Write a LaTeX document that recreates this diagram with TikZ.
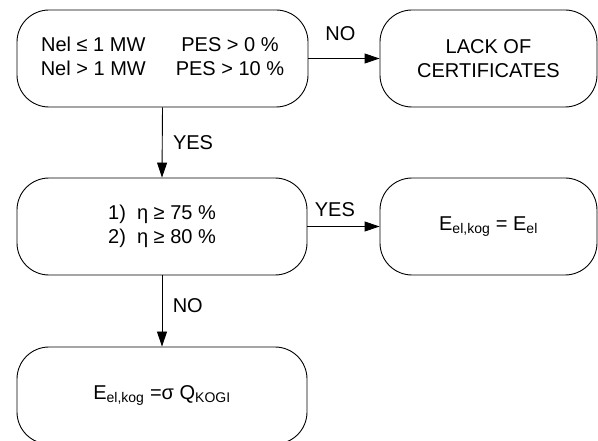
\documentclass[tikz,border=0pt]{standalone}
\usepackage{fontspec}
\setmainfont{Liberation Sans}
\usetikzlibrary{arrows.meta}

\begin{document}
\begin{tikzpicture}[x=1pt, y=-1pt, font=\fontsize{20}{24}\selectfont,
    box/.style={draw, rounded corners=32pt, minimum height=97pt, align=center, line width=0.9pt},
    arr/.style={-{Triangle[length=15pt,width=10pt]}, line width=0.9pt}]
        \useasboundingbox (0,0) rectangle (598,441);
        \node[box, minimum width=291pt] (cond) at (162.5,58.5)
            {\begin{tabular}{c@{\hspace{30pt}}c}
                Nel ≤ 1 MW & PES > 0 \% \\
                Nel > 1 MW & PES > 10 \%
            \end{tabular}};
        \node[box, minimum width=217pt] (lack) at (488.5,58.5) {LACK OF\\CERTIFICATES};
        \node[box, minimum width=290pt] (eta) at (162,226.5) {1)\ \ η ≥ 75 \%\\2)\ \ η ≥ 80 \%};
        \node[box, minimum width=217pt] (eel) at (488.5,226.5) {E\textsubscript{el,kog} = E\textsubscript{el}};
        \node[box, minimum width=290pt] (sigma) at (162,395.5) {E\textsubscript{el,kog} =σ Q\textsubscript{KOGI}};
        \draw[arr] (cond) -- node[above=14pt, pos=0.45] {NO} (lack);
        \draw[arr] (cond.south) -- node[right=7pt] {YES} (eta.north);
        \draw[arr] (eta) -- node[above=6pt, pos=0.38] {YES} (eel);
        \draw[arr] (eta.south) -- node[right=7pt, pos=0.42] {NO} (sigma.north);
    \end{tikzpicture}
\end{document}
